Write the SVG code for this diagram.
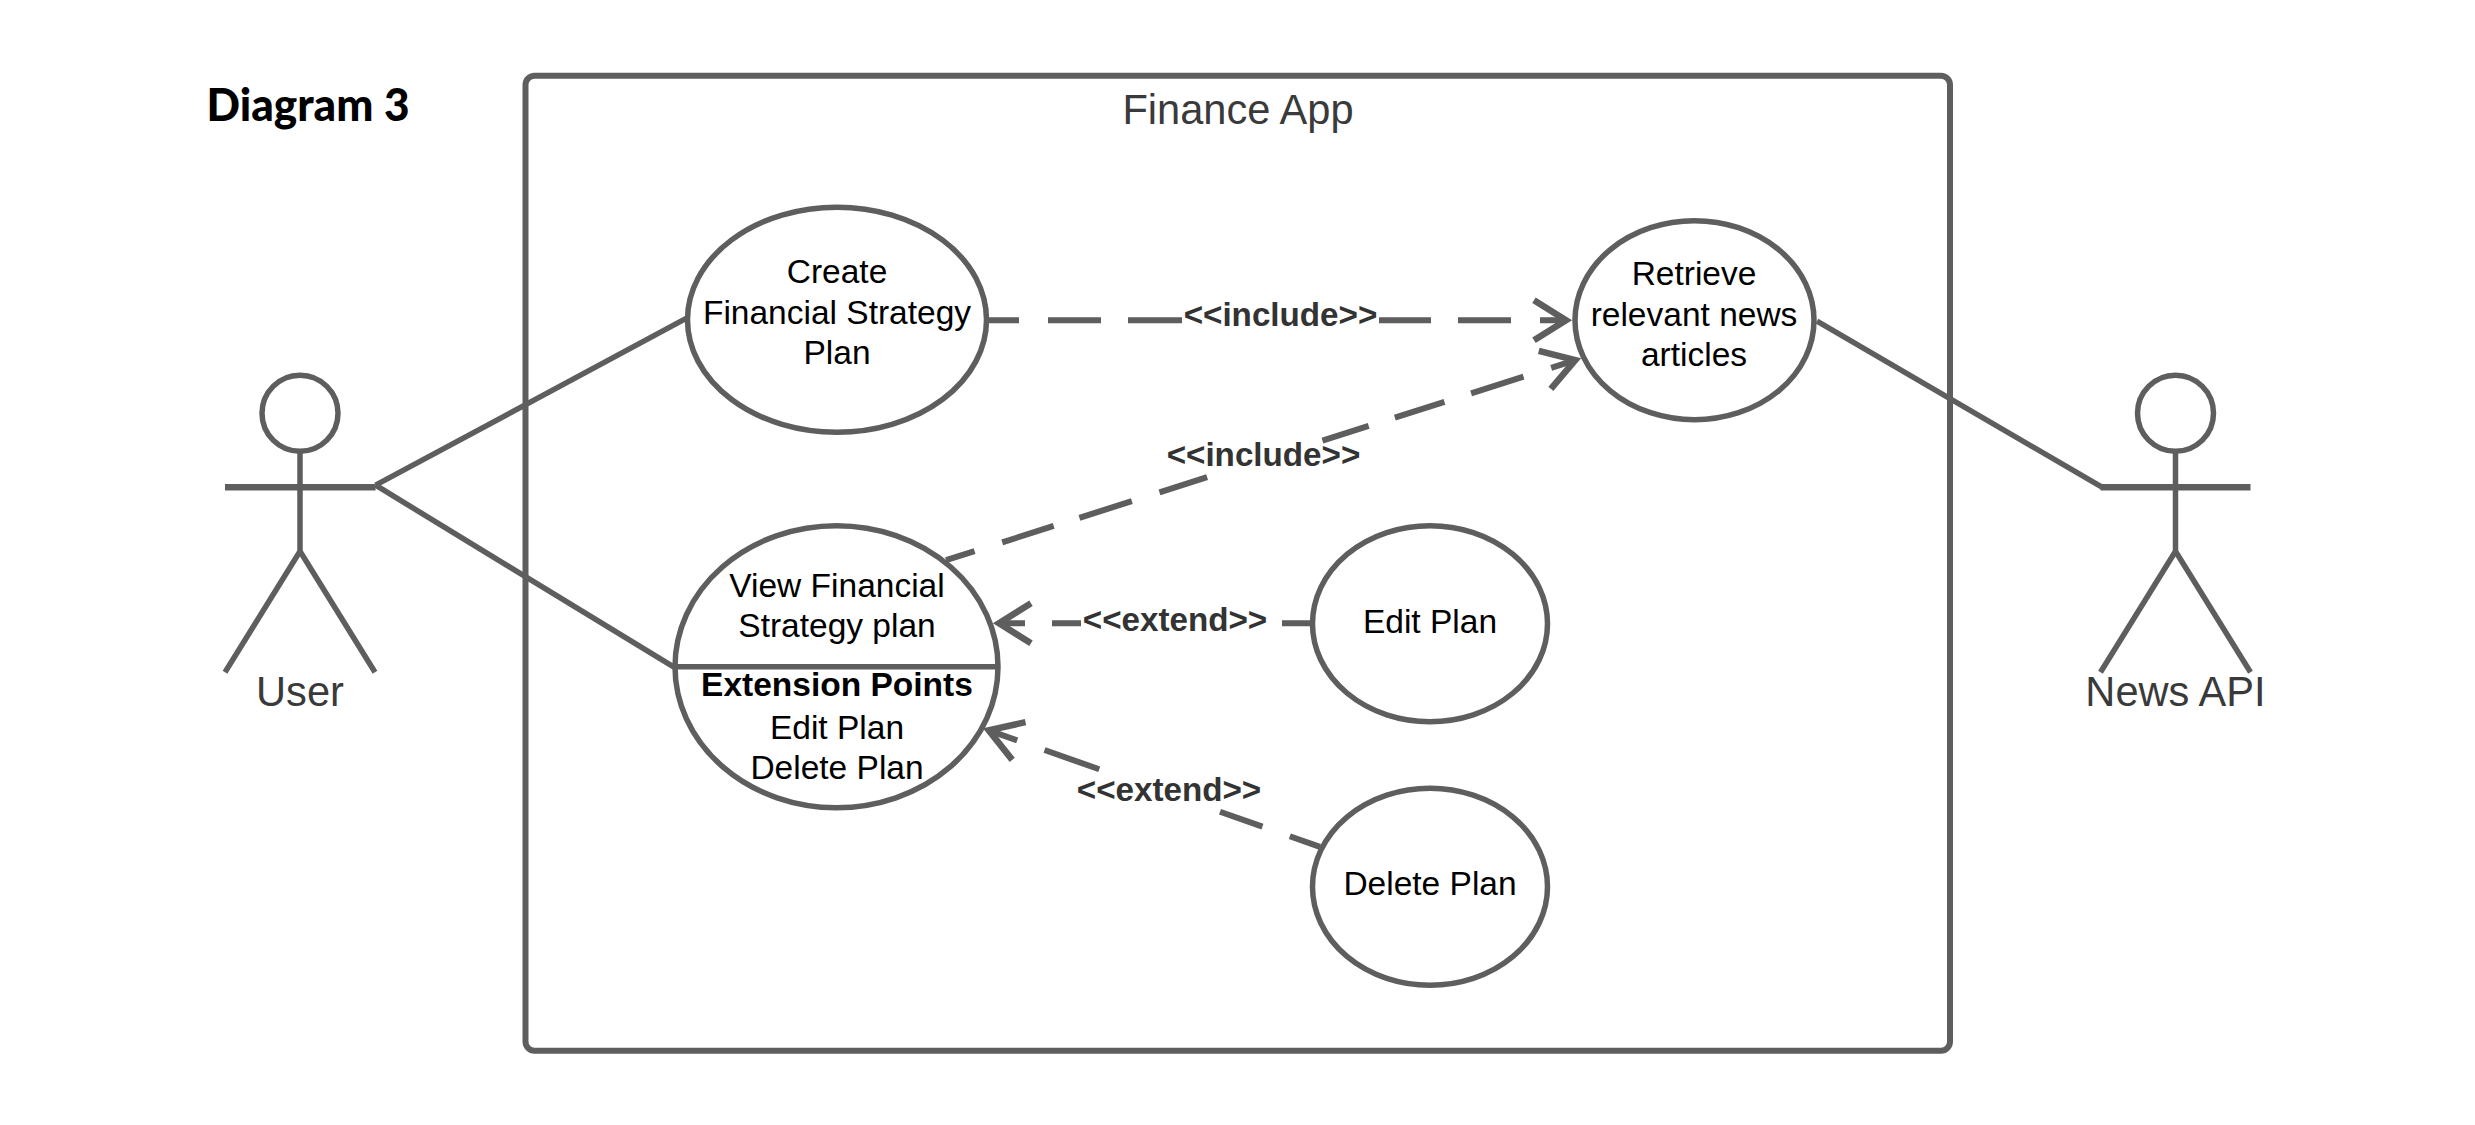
<svg xmlns="http://www.w3.org/2000/svg" width="2475" height="1125" viewBox="0 0 2475 1125">
  <style>
    .shape { fill: #ffffff; stroke: #5e5e5e; stroke-width: 5.5; }
    .frame { stroke-width: 6; }
    .stick { fill: none; stroke: #5e5e5e; stroke-width: 5.5; }
    .arm { stroke-width: 6.5; }
    .assoc { fill: none; stroke: #5e5e5e; stroke-width: 5.5; }
    .dash { fill: none; stroke: #5e5e5e; stroke-width: 6; marker-end: url(#open); }
    text { font-family: "Liberation Sans", Arial, sans-serif; text-anchor: middle; }
    .uc { font-size: 33.5px; fill: #000000; }
    .ucb { font-size: 33.5px; font-weight: 700; fill: #000000; }
    .actor { font-size: 41.6px; fill: #3a3a3a; }
    .lab { font-size: 33.2px; font-weight: 700; fill: #333333; }
  </style>
  <defs>
    <marker id="open" markerUnits="userSpaceOnUse" markerWidth="60" markerHeight="60" viewBox="-45 -30 60 60" refX="0" refY="0" orient="auto">
      <path d="M-32,-20 L0,0 L-32,20" fill="none" stroke="#5e5e5e" stroke-width="6.5"/>
    </marker>
  </defs>
  <rect width="2475" height="1125" fill="#ffffff"/>
  <text id="title" x="308" y="121" style="font-family:Lato,'Open Sans',sans-serif;font-size:46px;font-weight:900;fill:#000000" textLength="203" lengthAdjust="spacingAndGlyphs">Diagram 3</text>

  <g transform="translate(0,1.2)">
  <g id="system">
    <rect class="shape frame" x="525.5" y="74.5" width="1424.5" height="975" rx="9" ry="9"/>
    <text class="actor" x="1238" y="123">Finance App</text>
  </g>

  <g id="connectors">
    <path class="assoc" d="M375.6,484 L686.6,317"/>
    <path class="assoc" d="M375.6,484 L674,666"/>
    <path class="assoc" d="M1817,320 L2102,486"/>
    <path class="dash" d="M989,319 L1566,319" stroke-dasharray="30 29 53 27 54 197 52 27 53 29 34"/>
    <path class="dash" d="M946,559 L1575.3,359" stroke-dasharray="30 29 54 27 55 29 50 121 48.5 27.5 52 28 55 29 44"/>
    <path class="dash" d="M1311,622 L999,622" stroke-dasharray="29 201 29 27 34"/>
    <path class="dash" d="M1320,845.7 L988.7,729.2" stroke-dasharray="32 29 45 128 58 29 44"/>
    <text class="lab" x="1280.5" y="325">&lt;&lt;include&gt;&gt;</text>
    <text class="lab" x="1263.5" y="465">&lt;&lt;include&gt;&gt;</text>
    <text class="lab" x="1175" y="629.5">&lt;&lt;extend&gt;&gt;</text>
    <text class="lab" x="1169" y="799.5">&lt;&lt;extend&gt;&gt;</text>
  </g>

  <g id="actor-user">
    <ellipse class="stick" cx="300" cy="412" rx="38" ry="38"/>
    <path class="stick" d="M300,450 L300,550 M225,671 L300,550 L375,671"/>
    <path class="stick arm" d="M225,486 L375.6,486"/>
    <text class="actor" x="300" y="705">User</text>
  </g>

  <g id="actor-news-api">
    <ellipse class="stick" cx="2175.5" cy="412" rx="38" ry="38"/>
    <path class="stick" d="M2175.5,450 L2175.5,550 M2100.5,671 L2175.5,550 L2250.5,671"/>
    <path class="stick arm" d="M2100.5,486 L2250.5,486"/>
    <text class="actor" x="2175.5" y="705">News API</text>
  </g>

  <g id="uc-create">
    <ellipse class="shape" cx="837" cy="318.5" rx="149.5" ry="112.5"/>
    <text class="uc" x="837" y="282">Create</text>
    <text class="uc" x="837" y="323">Financial Strategy</text>
    <text class="uc" x="837" y="363">Plan</text>
  </g>

  <g id="uc-retrieve">
    <ellipse class="shape" cx="1694.5" cy="319" rx="119.5" ry="99.5"/>
    <text class="uc" x="1694" y="284">Retrieve</text>
    <text class="uc" x="1694" y="324.5">relevant news</text>
    <text class="uc" x="1694" y="365">articles</text>
  </g>

  <g id="uc-view">
    <ellipse class="shape" cx="836.5" cy="665.5" rx="161.5" ry="141"/>
    <path class="shape" d="M675,665.5 L998.5,665.5"/>
    <text class="uc" x="837" y="596">View Financial</text>
    <text class="uc" x="837" y="636">Strategy plan</text>
    <text class="ucb" x="837" y="695">Extension Points</text>
    <text class="uc" x="837" y="737.5">Edit Plan</text>
    <text class="uc" x="837" y="778">Delete Plan</text>
  </g>

  <g id="uc-edit">
    <ellipse class="shape" cx="1430" cy="622.5" rx="117.5" ry="98"/>
    <text class="uc" x="1430" y="631.5">Edit Plan</text>
  </g>

  <g id="uc-delete">
    <ellipse class="shape" cx="1430" cy="885.5" rx="117.5" ry="98.5"/>
    <text class="uc" x="1430" y="893.5">Delete Plan</text>
  </g>
  </g>
</svg>
